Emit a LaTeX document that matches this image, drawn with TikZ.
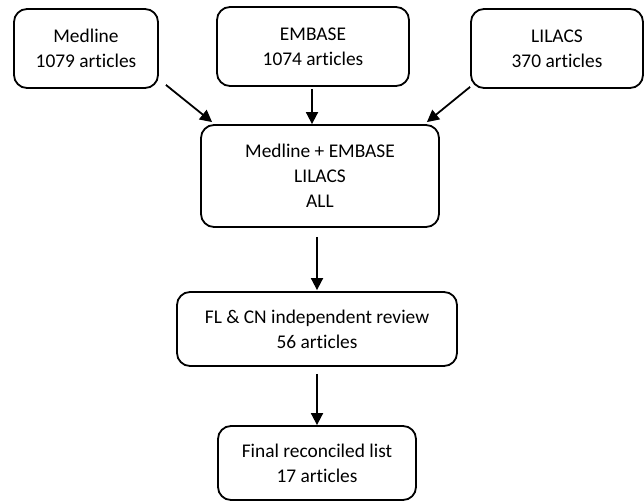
\documentclass[tikz,border=0pt]{standalone}
\usepackage{fontspec}
\setmainfont[Ligatures=NoCommon]{Carlito}
\usetikzlibrary{arrows.meta}
\begin{document}
\begin{tikzpicture}[x=1pt,y=1pt,
  box/.style={draw, line width=1.8pt, rounded corners=13pt, align=center, inner sep=0pt,
    font=\fontsize{19.4}{25}\selectfont},
  arr/.style={line width=1.8pt, -{Triangle[length=12pt,width=12pt]}}]
\useasboundingbox (0,0) rectangle (644,-502);
\node[box, minimum width=144pt, minimum height=79pt] (med) at (86,-48.5) {Medline\\1079 articles};
\node[box, minimum width=192pt, minimum height=79pt] (emb) at (313,-46.5) {EMBASE\\1074 articles};
\node[box, minimum width=172pt, minimum height=79pt] (lil) at (557,-48.5) {LILACS\\370 articles};
\node[box, minimum width=238pt, minimum height=102pt] (ctr) at (320,-176) {Medline + EMBASE\\LILACS\\ALL};
\node[box, minimum width=280pt, minimum height=74pt] (fl) at (317,-329) {FL \& CN independent review\\56 articles};
\node[box, minimum width=198pt, minimum height=74pt] (fin) at (317,-463) {Final reconciled list\\17 articles};
\draw[arr] ([shift={(7pt,4pt)}]med.south east) -- ([shift={(12pt,2pt)}]ctr.north west);
\draw[arr, shorten <=2pt] ([xshift=-1pt]emb.south) -- ([xshift=-1pt]emb.south |- ctr.north);
\draw[arr] ([shift={(0pt,2pt)}]lil.south west) -- ([shift={(-13pt,2pt)}]ctr.north east);
\draw[arr, shorten <=9pt, shorten >=1pt] (ctr.south -| fl.north) -- (fl.north);
\draw[arr, shorten <=7pt] (fl.south) -- (fin.north);
\end{tikzpicture}
\end{document}
